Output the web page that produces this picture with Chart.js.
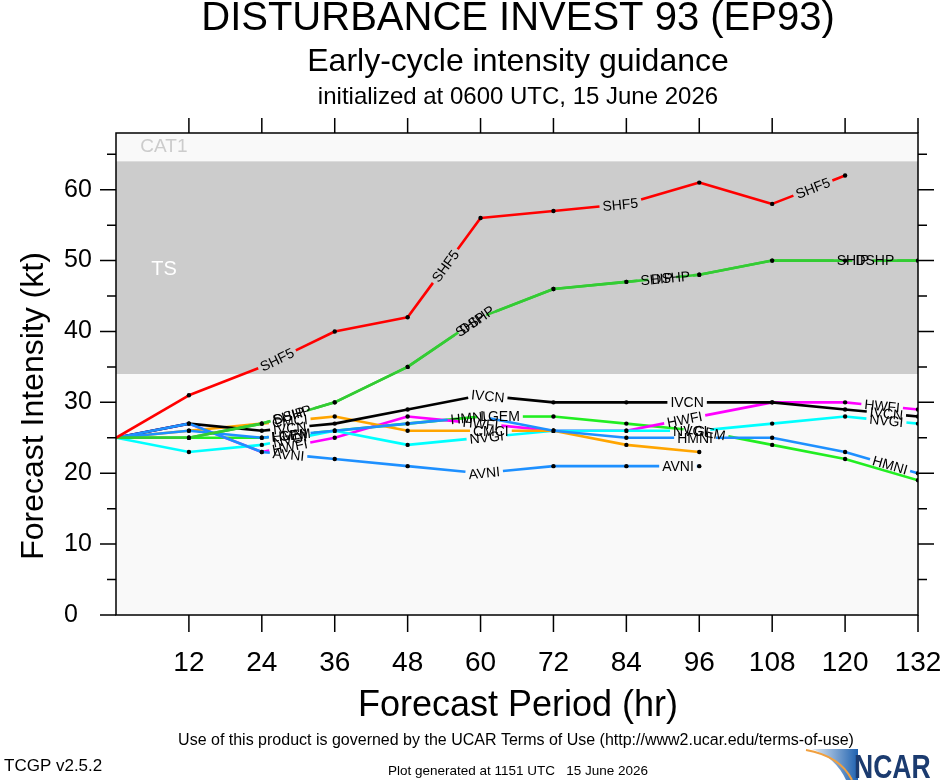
<!DOCTYPE html>
<html>
<head>
<meta charset="utf-8">
<script src="https://cdn.jsdelivr.net/npm/chart.js@4.4.1/dist/chart.umd.min.js"></script>
<style>
html, body { margin: 0; padding: 0; background: #fff; }
#wrap { width: 940px; height: 780px; }
</style>
</head>
<body>
<div id="wrap"><canvas id="chart" width="940" height="780"></canvas></div>
<script>
// forecast hours and model intensities (kt)
const hours = [0, 12, 24, 36, 48, 60, 72, 84, 96, 108, 120, 132];
const shf5 = [25, 31, 35, 40, 42, 56, 57, 58, 61, 58, 62, null];
const dshp = [25, 25, 27, 30, 35, 42, 46, 47, 48, 50, 50, 50];
const ship = [25, 25, 27, 30, 35, 42, 46, 47, 48, 50, 50, 50];
const avni = [25, 27, 23, 22, 21, 20, 21, 21, 21, null, null, null];
const hmni = [25, 26, 25, 26, 27, 28, 26, 25, 25, 25, 23, 20];
const ivcn = [25, 27, 26, 27, 29, 31, 30, 30, 30, 30, 29, 28];
const cmci = [25, 26, 27, 28, 26, 26, 26, 24, 23, null, null, null];
const nvgi = [25, 23, 24, 26, 24, 25, 26, 26, 26, 27, 28, 27];
const hwfi = [25, 27, 23, 25, 28, 27, 26, 26, 28, 30, 30, 29];
const lgem = [25, 25, 25, 26, 27, 28, 28, 27, 26, 24, 22, 19];

const xTicks = [12, 24, 36, 48, 60, 72, 84, 96, 108, 120, 132];
const yTicks = [0, 10, 20, 30, 40, 50, 60];
const tsBand = [34, 64];

// in-line model labels: [model, forecast hour of label centre]
const lineLabels = [
    ['SHF5', 26.5], ['SHF5', 54.2], ['SHF5', 83.0], ['SHF5', 114.7],
    ['SHIP', 28.4], ['SHIP', 58.3], ['SHIP', 89.0], ['SHIP', 121.3],
    ['DSHP', 29.0], ['DSHP', 59.4], ['DSHP', 91.3], ['DSHP', 124.9],
    ['CMCI', 28.6], ['CMCI', 61.7],
    ['IVCN', 28.6], ['IVCN', 61.2], ['IVCN', 94.0], ['IVCN', 126.8],
    ['LGEM', 28.8], ['LGEM', 63.2], ['LGEM', 97.1],
    ['HMNI', 28.6], ['HMNI', 58.0], ['HMNI', 95.3], ['HMNI', 127.4],
    ['NVGI', 28.6], ['NVGI', 61.0], ['NVGI', 94.5], ['NVGI', 126.8],
    ['HWFI', 28.6], ['HWFI', 60.0], ['HWFI', 93.6], ['HWFI', 126.1],
    ['AVNI', 28.4], ['AVNI', 60.6], ['AVNI', 92.5]
];

const models = [
    { name: 'SHF5', data: shf5, color: '#ff0000' },
    { name: 'DSHP', data: dshp, color: '#33cc33' },
    { name: 'SHIP', data: ship, color: '#33cc33' },
    { name: 'AVNI', data: avni, color: '#1e90ff' },
    { name: 'HMNI', data: hmni, color: '#1e90ff' },
    { name: 'IVCN', data: ivcn, color: '#000000' },
    { name: 'CMCI', data: cmci, color: '#ffa500' },
    { name: 'NVGI', data: nvgi, color: '#00ffff' },
    { name: 'HWFI', data: hwfi, color: '#ff00ff' },
    { name: 'LGEM', data: lgem, color: '#22ee22' }
];
const seriesByName = {};
models.forEach(m => seriesByName[m.name] = m.data);

const FONT = '"Liberation Sans", Arial, Helvetica, sans-serif';
const LABEL_FONT = '14px ' + FONT;

// where a label sits on its line, in pixels
function labelGeom(chart, lab) {
    const xs = chart.scales.x, ys = chart.scales.y;
    const vals = seriesByName[lab[0]];
    let i = 0;
    while (i < hours.length - 2 && hours[i + 1] < lab[1] && vals[i + 2] != null) i++;
    const x0 = xs.getPixelForValue(hours[i]), y0 = ys.getPixelForValue(vals[i]);
    const x1 = xs.getPixelForValue(hours[i + 1]), y1 = ys.getPixelForValue(vals[i + 1]);
    const t = (lab[1] - hours[i]) / (hours[i + 1] - hours[i]);
    const cx = x0 + t * (x1 - x0), cy = y0 + t * (y1 - y0);
    const ang = Math.atan2(y1 - y0, x1 - x0);
    const ctx = chart.ctx;
    ctx.save();
    ctx.font = LABEL_FONT;
    const w = ctx.measureText(lab[0]).width;
    ctx.restore();
    const half = w / 2 + 3;
    return { cx, cy, ang, xa: cx - half * Math.cos(ang), xb: cx + half * Math.cos(ang) };
}

// break the line where its own label sits
function gapDash(c, name) {
    const p0 = c.p0, p1 = c.p1;
    const dx = p1.x - p0.x;
    if (!(dx > 0)) return undefined;
    const len = Math.hypot(dx, p1.y - p0.y);
    const gaps = [];
    lineLabels.filter(l => l[0] === name).forEach(l => {
        const g = labelGeom(c.chart, l);
        const a = Math.max(g.xa, p0.x), b = Math.min(g.xb, p1.x);
        if (b > a) gaps.push([(a - p0.x) / dx * len, (b - p0.x) / dx * len]);
    });
    if (!gaps.length) return undefined;
    gaps.sort((u, v) => u[0] - v[0]);
    const dash = [];
    let pos = 0;
    gaps.forEach(g => { dash.push(Math.max(0, g[0] - pos), g[1] - g[0]); pos = g[1]; });
    dash.push(len - pos + 1000, 0);
    return dash;
}

function pointHidden(c, name) {
    if (c.dataIndex === 0) return true;
    const chart = c.chart;
    if (!chart.scales.x) return false;
    const px = chart.scales.x.getPixelForValue(hours[c.dataIndex]);
    return lineLabels.some(l => {
        if (l[0] !== name) return false;
        const g = labelGeom(chart, l);
        return px > g.xa + 1 && px < g.xb - 1;
    });
}

const datasets = models.map(m => ({
    label: m.name,
    data: hours.map((h, i) => ({ x: h, y: m.data[i] })).filter(p => p.y != null),
    borderColor: m.color,
    borderWidth: 2.6,
    fill: false,
    tension: 0,
    pointRadius: c => pointHidden(c, m.name) ? 0 : 2.2,
    pointBackgroundColor: '#000',
    pointBorderWidth: 0,
    pointHoverRadius: 0,
    segment: { borderDash: c => gapDash(c, m.name) }
}));

const backdropPlugin = {
    id: 'backdrop',
    beforeDatasetsDraw(chart) {
        const { ctx, chartArea: a, scales: { x, y } } = chart;
        ctx.save();
        ctx.fillStyle = '#f9f9f9';
        ctx.fillRect(a.left, a.top, a.right - a.left, a.bottom - a.top);
        const yTop = y.getPixelForValue(tsBand[1]), yBot = y.getPixelForValue(tsBand[0]);
        ctx.fillStyle = '#cccccc';
        ctx.fillRect(a.left, yTop, a.right - a.left, yBot - yTop);
        ctx.font = '19px ' + FONT;
        ctx.textBaseline = 'middle';
        ctx.textAlign = 'left';
        ctx.fillStyle = '#cccccc';
        ctx.fillText('CAT1', x.getPixelForValue(4), y.getPixelForValue(66.0));
        ctx.fillStyle = '#ffffff';
        ctx.font = '20px ' + FONT;
        ctx.fillText('TS', x.getPixelForValue(5.8), y.getPixelForValue(48.8));
        ctx.restore();
    },
    afterDatasetsDraw(chart) {
        const { ctx, chartArea: a, scales: { x, y } } = chart;
        ctx.save();
        // model labels
        ctx.font = LABEL_FONT;
        ctx.fillStyle = '#000';
        ctx.textAlign = 'center';
        ctx.textBaseline = 'middle';
        lineLabels.forEach(l => {
            const g = labelGeom(chart, l);
            ctx.save();
            ctx.translate(g.cx, g.cy);
            ctx.rotate(g.ang);
            ctx.fillText(l[0], 0, 1);
            ctx.restore();
        });
        // frame and tick marks
        ctx.strokeStyle = '#000';
        ctx.lineWidth = 1.5;
        ctx.strokeRect(a.left, a.top, a.right - a.left, a.bottom - a.top);
        ctx.beginPath();
        xTicks.forEach(v => {
            const px = x.getPixelForValue(v);
            ctx.moveTo(px, a.bottom); ctx.lineTo(px, a.bottom + 17);
            ctx.moveTo(px, a.top); ctx.lineTo(px, a.top - 15);
        });
        for (let v = 5; v <= 65; v += 5) {
            const py = y.getPixelForValue(v);
            const len = v % 10 === 0 ? 16 : 9;
            ctx.moveTo(a.left, py); ctx.lineTo(a.left - len, py);
            ctx.moveTo(a.right, py); ctx.lineTo(a.right + len, py);
        }
        ctx.moveTo(a.left, y.getPixelForValue(0)); ctx.lineTo(a.left - 16, y.getPixelForValue(0));
        ctx.stroke();
        ctx.restore();
    },
    afterDraw(chart) {
        const ctx = chart.ctx;
        ctx.save();
        ctx.fillStyle = '#000';
        ctx.textAlign = 'center';
        ctx.textBaseline = 'middle';
        ctx.font = '40px ' + FONT;
        ctx.fillText('DISTURBANCE INVEST 93 (EP93)', 518, 19);
        ctx.font = '32px ' + FONT;
        ctx.fillText('Early-cycle intensity guidance', 518, 62);
        ctx.font = '24px ' + FONT;
        ctx.fillText('initialized at 0600 UTC, 15 June 2026', 518, 97);
        ctx.font = '36px ' + FONT;
        ctx.fillText('Forecast Period (hr)', 518, 706);
        ctx.save();
        ctx.translate(34, 406);
        ctx.rotate(-Math.PI / 2);
        ctx.font = '32px ' + FONT;
        ctx.fillText('Forecast Intensity (kt)', 0, 0);
        ctx.restore();
        ctx.font = '16px ' + FONT;
        ctx.fillText('Use of this product is governed by the UCAR Terms of Use (http://www2.ucar.edu/terms-of-use)', 516, 741);
        ctx.font = '13.5px ' + FONT;
        ctx.fillText('Plot generated at 1151 UTC   15 June 2026', 518, 771);
        ctx.textAlign = 'left';
        ctx.font = '17px ' + FONT;
        ctx.fillText('TCGP v2.5.2', 4, 766);
        // NCAR logo
        const g = ctx.createLinearGradient(805, 0, 858, 0);
        g.addColorStop(0, '#ffffff');
        g.addColorStop(1, '#1f62b0');
        ctx.fillStyle = g;
        ctx.beginPath();
        ctx.moveTo(812, 749);
        ctx.lineTo(858, 749);
        ctx.lineTo(858, 780);
        ctx.lineTo(846, 780);
        ctx.quadraticCurveTo(836, 758, 812, 749);
        ctx.fill();
        ctx.strokeStyle = '#f0a040';
        ctx.lineWidth = 2;
        ctx.beginPath();
        ctx.moveTo(806, 750);
        ctx.quadraticCurveTo(840, 756, 852, 780);
        ctx.stroke();
        ctx.fillStyle = '#1b3b6f';
        ctx.font = 'bold 34px ' + FONT;
        ctx.textBaseline = 'alphabetic';
        ctx.save();
        ctx.translate(854, 778);
        ctx.scale(0.78, 1);
        ctx.fillText('NCAR', 0, 0);
        ctx.restore();
        ctx.restore();
    }
};

new Chart(document.getElementById('chart'), {
    type: 'line',
    data: { datasets },
    options: {
        responsive: false,
        animation: false,
        devicePixelRatio: 1,
        layout: { padding: { left: 64, top: 133, right: 22, bottom: 105 } },
        plugins: { legend: { display: false }, tooltip: { enabled: false } },
        events: [],
        scales: {
            x: {
                type: 'linear',
                min: 0,
                max: 132,
                afterBuildTicks: s => { s.ticks = xTicks.map(v => ({ value: v })); },
                afterFit: s => { s.height = 60; s.paddingLeft = 0; s.paddingRight = 0; },
                grid: { display: false, drawTicks: false },
                border: { display: false },
                ticks: { color: '#000', font: { family: FONT, size: 28 }, padding: 31, maxRotation: 0 }
            },
            y: {
                type: 'linear',
                min: 0,
                max: 68,
                afterBuildTicks: s => { s.ticks = yTicks.map(v => ({ value: v })); },
                afterFit: s => { s.width = 52; s.paddingTop = 0; s.paddingBottom = 0; },
                grid: { display: false, drawTicks: false },
                border: { display: false },
                ticks: { color: '#000', font: { family: FONT, size: 25 }, crossAlign: 'far', padding: 0 }
            }
        }
    },
    plugins: [backdropPlugin]
});
</script>
</body>
</html>
